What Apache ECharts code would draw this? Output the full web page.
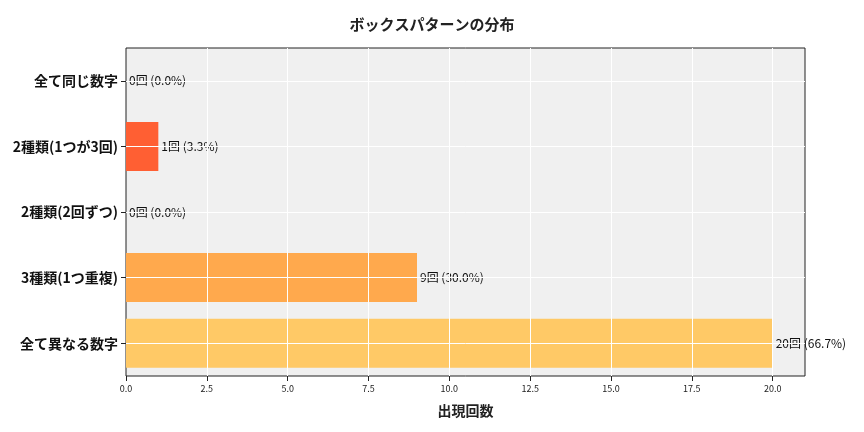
<!DOCTYPE html>
<html><head><meta charset="utf-8">
<script src="https://cdn.jsdelivr.net/npm/echarts@6/dist/echarts.min.js"></script>
<style>html,body{margin:0;padding:0;background:#fff}#c{width:864px;height:432px}</style>
</head><body><div id="c"></div>
<script>
const categories = ['全て異なる数字','3種類(1つ重複)','2種類(2回ずつ)','2種類(1つが3回)','全て同じ数字'];
const counts = [20, 9, 0, 1, 0];
const percents = [66.7, 30.0, 0.0, 3.3, 0.0];
const colors = ['#FFC966','#FFA94D','#FF8A3D','#FF5F33','#FF3D2E'];
const xTicks = [2.5,5,7.5,10,12.5,15,17.5,20];
const F = '"Noto Sans CJK JP", "Noto Sans", sans-serif';
const chart = echarts.init(document.getElementById('c'));
const lineStyle = {color:'#ffffff', width:1, type:'solid', opacity:1};
chart.setOption({
  animation:false,
  title:{text:'ボックスパターンの分布', left:'center', top:12, textStyle:{fontFamily:F, fontSize:15, fontWeight:'bold', color:'#222'}},
  grid:{left:126, right:59, top:48, bottom:56, show:true, backgroundColor:'#F0F0F0', borderColor:'#222', borderWidth:1},
  xAxis:{type:'value', min:0, max:21, interval:2.5, name:'出現回数', nameLocation:'middle', nameGap:28,
    nameTextStyle:{fontFamily:F, fontSize:14, fontWeight:'bold', color:'#222'},
    axisLine:{show:false}, axisTick:{show:true, lineStyle:{color:'#222'}}, splitLine:{show:false},
    axisLabel:{fontFamily:F, fontSize:9, color:'#222', showMaxLabel:false, formatter:v=>v.toFixed(1)}},
  yAxis:{type:'category', data:categories, axisLine:{show:false}, axisTick:{show:true, alignWithLabel:true, lineStyle:{color:'#222'}},
    axisLabel:{fontFamily:F, fontSize:14, fontWeight:'bold', color:'#111'}, splitLine:{show:false}},
  series:[
    {type:'bar', barWidth:49, z:2,
      data:counts.map((v,i)=>({value:v, itemStyle:{color:colors[i]}}))},
    {type:'bar', barWidth:49, barGap:'-100%', z:3, data:counts.map(()=>0),
      markLine:{silent:true, symbol:'none', label:{show:false}, lineStyle:lineStyle,
        data:[...categories.map(c=>({yAxis:c})), ...xTicks.map(x=>({xAxis:x}))]}},
    {type:'bar', barWidth:49, barGap:'-100%', z:4,
      data:counts.map(v=>({value:v, itemStyle:{color:'rgba(0,0,0,0)'}})),
      label:{show:true, position:'right', distance:3, fontFamily:F, fontSize:12, color:'#111',
        formatter:p=>counts[p.dataIndex]+'回 ('+percents[p.dataIndex].toFixed(1)+'%)'}}
  ]
});
</script></body></html>
